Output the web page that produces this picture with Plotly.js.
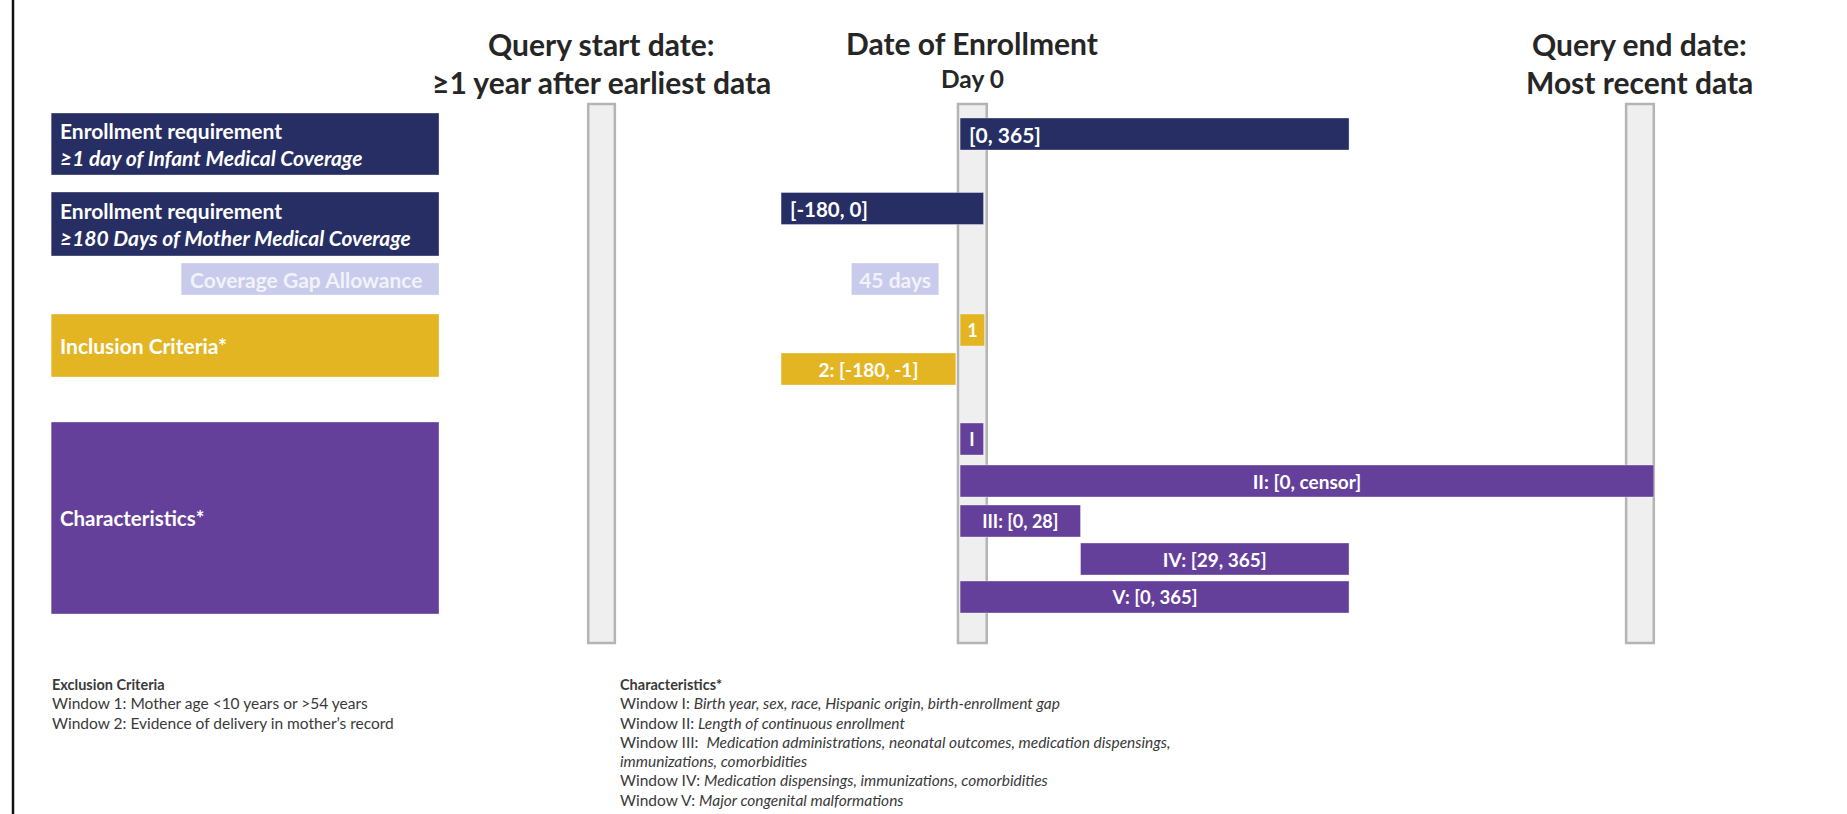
<!DOCTYPE html>
<html>
<head>
<meta charset="utf-8">
<script src="https://cdn.plot.ly/plotly-3.0.1.min.js"></script>
<style>
  html, body { margin: 0; padding: 0; background: #ffffff; }
  #chart { width: 1847px; height: 814px; }
</style>
</head>
<body>
<div id="chart"></div>
<script>
// ---------- DATA (schematic timeline; Day 0 = 0, positions) ----------
const milestoneTitles = ['Query start date:', 'Date of Enrollment', 'Query end date:'];
const milestoneSubtitles = ['≥1 year after earliest data', 'Day 0', 'Most recent data'];
const milestoneStart = [-349, -2, 625];
const milestoneEnd = [-324, 25, 651];

const groupLabels = [
  'Enrollment requirement<br><i>≥1 day of Infant Medical Coverage</i>',
  'Enrollment requirement<br><i>≥180 Days of Mother Medical Coverage</i>',
  'Coverage Gap Allowance',
  'Inclusion Criteria*',
  'Characteristics*'
];
const groupStart = [-853, -853, -731, -853, -853];
const groupEnd = [-489, -489, -489, -489, -489];
const groupTop = [113, 192, 263, 314, 422];
const groupBottom = [175, 256, 295, 377, 614];

const windowLabels = ['[0, 365]', '[-180, 0]', '45 days', '1', '2: [-180, -1]',
                      'I', 'II: [0, censor]', 'III: [0, 28]', 'IV: [29, 365]', 'V: [0, 365]'];
const windowStart = [0, -168, -102, 0, -168, 0, 0, 0, 113, 0];
const windowEnd   = [365, 22, -20, 23, -4, 22, 651, 113, 365, 365];
const windowLane  = [134, 208.5, 279, 330, 369, 439, 481, 521, 559, 597];
const windowGroup = [0, 1, 2, 3, 3, 4, 4, 4, 4, 4];

const exclusionLines = [
  '<b>Exclusion Criteria</b>',
  'Window 1: Mother age &lt;10 years or &gt;54 years',
  'Window 2: Evidence of delivery in mother\u2019s record'
];
const characteristicLines = [
  '<b>Characteristics*</b>',
  'Window I: <i>Birth year, sex, race, Hispanic origin, birth-enrollment gap</i>',
  'Window II: <i>Length of continuous enrollment</i>',
  'Window III:  <i>Medication administrations, neonatal outcomes, medication dispensings,</i>',
  '<i>immunizations, comorbidities</i>',
  'Window IV: <i>Medication dispensings, immunizations, comorbidities</i>',
  'Window V: <i>Major congenital malformations</i>'
];

// ---------- STYLE ----------
const W = 1847, H = 814;
const FONT = 'Lato, "Open Sans", sans-serif';
const groupColors = ['#262e64', '#262e64', '#c8cbeb', '#e3b523', '#65409b'];
const groupTextColors = ['#ffffff', '#ffffff', '#f1f2fb', '#ffffff', '#ffffff'];
const groupFontSizes = [21, 21, 21, 21, 20.5];
const windowFontSizes = [21, 20.5, 21, 18, 19, 18, 19, 18, 19, 18.5];
const leftAnchored = [true, true, false, false, false, false, false, false, false, false];
const barThickness = 32;
const colTop = 104, colBottom = 643;

// ---------- TRACES ----------
const traces = [];

// milestone columns
traces.push({
  type: 'bar', orientation: 'h',
  y: milestoneStart.map(() => (colTop + colBottom) / 2),
  base: milestoneStart,
  x: milestoneStart.map((s, i) => milestoneEnd[i] - s),
  width: milestoneStart.map(() => colBottom - colTop),
  marker: { color: '#efefef', line: { color: '#b4b4b4', width: 2.5 } },
  hoverinfo: 'skip', textposition: 'none'
});

// left group boxes
traces.push({
  type: 'bar', orientation: 'h',
  y: groupTop.map((t, i) => (t + groupBottom[i]) / 2),
  base: groupStart,
  x: groupStart.map((s, i) => groupEnd[i] - s),
  width: groupTop.map((t, i) => groupBottom[i] - t),
  marker: { color: groupColors, line: { color: 'rgba(255,255,255,0.35)', width: 1 } },
  hoverinfo: 'skip', textposition: 'none'
});

// window bars
traces.push({
  type: 'bar', orientation: 'h',
  y: windowLane,
  base: windowStart,
  x: windowStart.map((s, i) => windowEnd[i] - s),
  width: windowLane.map(() => barThickness),
  marker: { color: windowGroup.map(g => groupColors[g]), line: { color: 'rgba(255,255,255,0.35)', width: 1 } },
  text: windowLabels.map((t, i) => leftAnchored[i] ? '' : t),
  textposition: 'inside', insidetextanchor: 'middle', constraintext: 'none',
  textfont: { family: FONT, size: windowFontSizes, color: windowGroup.map(g => groupTextColors[g]), weight: 'bold' },
  hoverinfo: 'skip', cliponaxis: false
});

// ---------- ANNOTATIONS ----------
const annotations = [];
const center = i => (milestoneStart[i] + milestoneEnd[i]) / 2;

milestoneTitles.forEach((t, i) => {
  annotations.push({
    xref: 'x', yref: 'y', x: center(i), y: i === 1 ? 42.5 : 44, xanchor: 'center', yanchor: 'middle',
    text: '<b>' + t + '</b>', showarrow: false,
    font: { family: FONT, size: 30, color: '#262626' }
  });
  annotations.push({
    xref: 'x', yref: 'y', x: center(i), y: i === 1 ? 78.5 : 82, xanchor: 'center', yanchor: 'middle',
    text: '<b>' + milestoneSubtitles[i] + '</b>', showarrow: false,
    font: { family: FONT, size: i === 1 ? 24.5 : 30, color: '#262626' }
  });
});

groupLabels.forEach((t, i) => {
  annotations.push({
    xref: 'x', yref: 'y', x: groupStart[i], xshift: 7,
    y: (groupTop[i] + groupBottom[i]) / 2, xanchor: 'left', yanchor: 'middle', align: 'left',
    text: '<b>' + t + '</b>', showarrow: false,
    font: { family: FONT, size: groupFontSizes[i], color: groupTextColors[i] }
  });
});

windowLabels.forEach((t, i) => {
  if (!leftAnchored[i]) return;
  annotations.push({
    xref: 'x', yref: 'y', x: windowStart[i], xshift: 7,
    y: windowLane[i], xanchor: 'left', yanchor: 'middle',
    text: '<b>' + t + '</b>', showarrow: false,
    font: { family: FONT, size: windowFontSizes[i], color: groupTextColors[windowGroup[i]] }
  });
});

const footTop = 684, footStep = 19.25;
const footSize = i => (i === 0 ? 14.5 : 15.5);
exclusionLines.forEach((t, i) => {
  annotations.push({
    xref: 'paper', yref: 'y', x: 50 / W, y: footTop + i * footStep, xanchor: 'left', yanchor: 'middle',
    text: t, showarrow: false, font: { family: FONT, size: footSize(i), color: '#3a3a3a' }
  });
});
characteristicLines.forEach((t, i) => {
  annotations.push({
    xref: 'paper', yref: 'y', x: 618 / W, y: footTop + i * footStep, xanchor: 'left', yanchor: 'middle',
    text: t, showarrow: false, font: { family: FONT, size: footSize(i), color: '#3a3a3a' }
  });
});

const layout = {
  width: W, height: H,
  margin: { l: 0, r: 0, t: 0, b: 0, pad: 0 },
  paper_bgcolor: '#ffffff', plot_bgcolor: '#ffffff',
  barmode: 'overlay', showlegend: false,
  xaxis: { range: [-901, 832.3], visible: false, fixedrange: true },
  yaxis: { range: [H, 0], visible: false, fixedrange: true },
  annotations: annotations,
  shapes: [{
    type: 'line', xref: 'paper', yref: 'paper', x0: 13 / W, x1: 13 / W, y0: 0, y1: 1,
    line: { color: '#111111', width: 2.5 }
  }]
};

Plotly.newPlot('chart', traces, layout, { staticPlot: true, displayModeBar: false });
</script>
</body>
</html>
